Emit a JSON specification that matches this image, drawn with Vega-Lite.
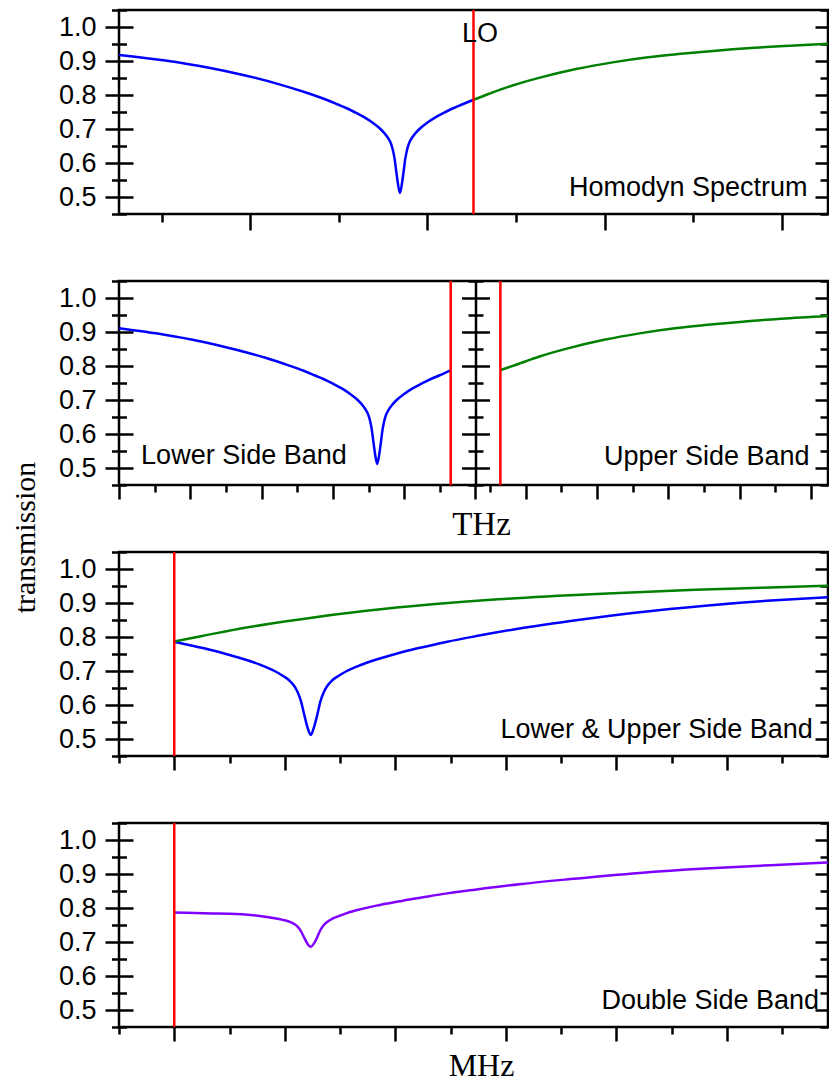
{
  "$schema": "https://vega.github.io/schema/vega-lite/v6.json",
  "autosize": {"type": "none"},
  "padding": {"left": 119, "top": 10, "right": 710, "bottom": 1073},
  "bounds": "flush",
  "spacing": 67,
  "config": {
    "view": {"stroke": "#000000", "strokeWidth": 2.5},
    "axis": {"grid": false, "domain": false, "tickColor": "#000000", "tickWidth": 2.5, "domainColor": "#000000", "domainWidth": 2.5, "labelFont": "Liberation Sans", "labelFontSize": 27, "labelColor": "#000000", "titleFont": "Liberation Serif", "titleFontWeight": "normal", "titleColor": "#000000"},
    "text": {"font": "Liberation Sans", "fontSize": 27, "color": "#000000"}
  },
  "datasets": {
    "p1": [
      {"x": 0, "t": 0.918, "band": "LSB"}, {"x": 0.5, "t": 0.902, "band": "LSB"}, {"x": 1.0, "t": 0.881, "band": "LSB"}, {"x": 1.4, "t": 0.859, "band": "LSB"}, {"x": 1.8, "t": 0.832, "band": "LSB"}, {"x": 2.1, "t": 0.808, "band": "LSB"}, {"x": 2.34, "t": 0.786, "band": "LSB"}, {"x": 2.47, "t": 0.772, "band": "LSB"}, {"x": 2.57, "t": 0.761, "band": "LSB"}, {"x": 2.67, "t": 0.748, "band": "LSB"}, {"x": 2.77, "t": 0.734, "band": "LSB"}, {"x": 2.87, "t": 0.717, "band": "LSB"}, {"x": 2.95, "t": 0.700, "band": "LSB"}, {"x": 3.0, "t": 0.686, "band": "LSB"}, {"x": 3.04, "t": 0.672, "band": "LSB"}, {"x": 3.07, "t": 0.656, "band": "LSB"}, {"x": 3.09, "t": 0.638, "band": "LSB"}, {"x": 3.11, "t": 0.612, "band": "LSB"}, {"x": 3.13, "t": 0.572, "band": "LSB"}, {"x": 3.15, "t": 0.535, "band": "LSB"}, {"x": 3.17, "t": 0.512, "band": "LSB"}, {"x": 3.19, "t": 0.535, "band": "LSB"}, {"x": 3.21, "t": 0.572, "band": "LSB"}, {"x": 3.23, "t": 0.612, "band": "LSB"}, {"x": 3.25, "t": 0.638, "band": "LSB"}, {"x": 3.27, "t": 0.656, "band": "LSB"}, {"x": 3.30, "t": 0.672, "band": "LSB"}, {"x": 3.34, "t": 0.686, "band": "LSB"}, {"x": 3.39, "t": 0.700, "band": "LSB"}, {"x": 3.47, "t": 0.717, "band": "LSB"}, {"x": 3.57, "t": 0.734, "band": "LSB"}, {"x": 3.67, "t": 0.748, "band": "LSB"}, {"x": 3.77, "t": 0.761, "band": "LSB"}, {"x": 3.87, "t": 0.772, "band": "LSB"}, {"x": 4.0, "t": 0.786, "band": "LSB"},
      {"x": 4.0, "t": 0.786, "band": "USB"}, {"x": 4.17, "t": 0.803, "band": "USB"}, {"x": 4.44, "t": 0.828, "band": "USB"}, {"x": 4.75, "t": 0.851, "band": "USB"}, {"x": 5.17, "t": 0.877, "band": "USB"}, {"x": 5.57, "t": 0.896, "band": "USB"}, {"x": 5.97, "t": 0.911, "band": "USB"}, {"x": 6.34, "t": 0.921, "band": "USB"}, {"x": 6.67, "t": 0.929, "band": "USB"}, {"x": 7.17, "t": 0.939, "band": "USB"}, {"x": 7.57, "t": 0.945, "band": "USB"}, {"x": 8.0, "t": 0.951, "band": "USB"}
    ],
    "p2": [
      {"x": 0, "t": 0.911, "band": "LSB"}, {"x": 0.639, "t": 0.892, "band": "LSB"}, {"x": 1.136, "t": 0.873, "band": "LSB"}, {"x": 1.658, "t": 0.847, "band": "LSB"}, {"x": 2.043, "t": 0.825, "band": "LSB"}, {"x": 2.378, "t": 0.802, "band": "LSB"}, {"x": 2.59, "t": 0.786, "band": "LSB"}, {"x": 2.751, "t": 0.772, "band": "LSB"}, {"x": 2.875, "t": 0.761, "band": "LSB"}, {"x": 3.0, "t": 0.748, "band": "LSB"}, {"x": 3.124, "t": 0.734, "band": "LSB"}, {"x": 3.248, "t": 0.717, "band": "LSB"}, {"x": 3.348, "t": 0.700, "band": "LSB"}, {"x": 3.41, "t": 0.686, "band": "LSB"}, {"x": 3.459, "t": 0.672, "band": "LSB"}, {"x": 3.497, "t": 0.656, "band": "LSB"}, {"x": 3.522, "t": 0.638, "band": "LSB"}, {"x": 3.546, "t": 0.612, "band": "LSB"}, {"x": 3.571, "t": 0.572, "band": "LSB"}, {"x": 3.596, "t": 0.535, "band": "LSB"}, {"x": 3.621, "t": 0.512, "band": "LSB"}, {"x": 3.646, "t": 0.535, "band": "LSB"}, {"x": 3.671, "t": 0.572, "band": "LSB"}, {"x": 3.696, "t": 0.612, "band": "LSB"}, {"x": 3.72, "t": 0.638, "band": "LSB"}, {"x": 3.745, "t": 0.656, "band": "LSB"}, {"x": 3.783, "t": 0.672, "band": "LSB"}, {"x": 3.832, "t": 0.686, "band": "LSB"}, {"x": 3.894, "t": 0.700, "band": "LSB"}, {"x": 3.994, "t": 0.717, "band": "LSB"}, {"x": 4.118, "t": 0.734, "band": "LSB"}, {"x": 4.242, "t": 0.748, "band": "LSB"}, {"x": 4.367, "t": 0.761, "band": "LSB"}, {"x": 4.491, "t": 0.772, "band": "LSB"}, {"x": 4.652, "t": 0.787, "band": "LSB"},
      {"x": 5.349, "t": 0.788, "band": "USB"}, {"x": 5.56, "t": 0.803, "band": "USB"}, {"x": 5.896, "t": 0.828, "band": "USB"}, {"x": 6.281, "t": 0.851, "band": "USB"}, {"x": 6.803, "t": 0.877, "band": "USB"}, {"x": 7.3, "t": 0.896, "band": "USB"}, {"x": 7.797, "t": 0.911, "band": "USB"}, {"x": 8.257, "t": 0.921, "band": "USB"}, {"x": 8.667, "t": 0.929, "band": "USB"}, {"x": 9.288, "t": 0.939, "band": "USB"}, {"x": 9.944, "t": 0.947, "band": "USB"}
    ],
    "p3": [
      {"x": 0, "t": 0.786, "band": "LSB"}, {"x": 0.194, "t": 0.772, "band": "LSB"}, {"x": 0.342, "t": 0.761, "band": "LSB"}, {"x": 0.491, "t": 0.748, "band": "LSB"}, {"x": 0.64, "t": 0.734, "band": "LSB"}, {"x": 0.789, "t": 0.717, "band": "LSB"}, {"x": 0.908, "t": 0.700, "band": "LSB"}, {"x": 0.982, "t": 0.686, "band": "LSB"}, {"x": 1.042, "t": 0.672, "band": "LSB"}, {"x": 1.086, "t": 0.656, "band": "LSB"}, {"x": 1.116, "t": 0.638, "band": "LSB"}, {"x": 1.146, "t": 0.612, "band": "LSB"}, {"x": 1.176, "t": 0.572, "band": "LSB"}, {"x": 1.205, "t": 0.535, "band": "LSB"}, {"x": 1.235, "t": 0.512, "band": "LSB"}, {"x": 1.265, "t": 0.535, "band": "LSB"}, {"x": 1.295, "t": 0.572, "band": "LSB"}, {"x": 1.324, "t": 0.612, "band": "LSB"}, {"x": 1.354, "t": 0.638, "band": "LSB"}, {"x": 1.384, "t": 0.656, "band": "LSB"}, {"x": 1.428, "t": 0.672, "band": "LSB"}, {"x": 1.488, "t": 0.686, "band": "LSB"}, {"x": 1.562, "t": 0.700, "band": "LSB"}, {"x": 1.681, "t": 0.717, "band": "LSB"}, {"x": 1.83, "t": 0.734, "band": "LSB"}, {"x": 1.979, "t": 0.748, "band": "LSB"}, {"x": 2.128, "t": 0.761, "band": "LSB"}, {"x": 2.276, "t": 0.772, "band": "LSB"}, {"x": 2.47, "t": 0.786, "band": "LSB"}, {"x": 2.723, "t": 0.802, "band": "LSB"}, {"x": 3.124, "t": 0.825, "band": "LSB"}, {"x": 3.585, "t": 0.847, "band": "LSB"}, {"x": 4.21, "t": 0.873, "band": "LSB"}, {"x": 4.805, "t": 0.892, "band": "LSB"}, {"x": 5.4, "t": 0.907, "band": "LSB"}, {"x": 5.916, "t": 0.917, "band": "LSB"},
      {"x": 0, "t": 0.787, "band": "USB"}, {"x": 0.253, "t": 0.803, "band": "USB"}, {"x": 0.654, "t": 0.828, "band": "USB"}, {"x": 1.116, "t": 0.851, "band": "USB"}, {"x": 1.74, "t": 0.877, "band": "USB"}, {"x": 2.335, "t": 0.896, "band": "USB"}, {"x": 2.93, "t": 0.911, "band": "USB"}, {"x": 3.481, "t": 0.921, "band": "USB"}, {"x": 3.972, "t": 0.929, "band": "USB"}, {"x": 4.715, "t": 0.939, "band": "USB"}, {"x": 5.31, "t": 0.945, "band": "USB"}, {"x": 5.916, "t": 0.951, "band": "USB"}
    ],
    "p4": [
      {"x": 0, "t": 0.787, "band": "DSB"}, {"x": 0.194, "t": 0.785, "band": "DSB"}, {"x": 0.342, "t": 0.784, "band": "DSB"}, {"x": 0.491, "t": 0.783, "band": "DSB"}, {"x": 0.64, "t": 0.781, "band": "DSB"}, {"x": 0.789, "t": 0.776, "band": "DSB"}, {"x": 0.908, "t": 0.770, "band": "DSB"}, {"x": 0.982, "t": 0.765, "band": "DSB"}, {"x": 1.042, "t": 0.760, "band": "DSB"}, {"x": 1.086, "t": 0.753, "band": "DSB"}, {"x": 1.116, "t": 0.745, "band": "DSB"}, {"x": 1.146, "t": 0.732, "band": "DSB"}, {"x": 1.176, "t": 0.713, "band": "DSB"}, {"x": 1.205, "t": 0.695, "band": "DSB"}, {"x": 1.235, "t": 0.686, "band": "DSB"}, {"x": 1.265, "t": 0.696, "band": "DSB"}, {"x": 1.295, "t": 0.715, "band": "DSB"}, {"x": 1.324, "t": 0.736, "band": "DSB"}, {"x": 1.354, "t": 0.750, "band": "DSB"}, {"x": 1.384, "t": 0.759, "band": "DSB"}, {"x": 1.428, "t": 0.768, "band": "DSB"}, {"x": 1.488, "t": 0.776, "band": "DSB"}, {"x": 1.562, "t": 0.785, "band": "DSB"}, {"x": 1.681, "t": 0.796, "band": "DSB"}, {"x": 1.83, "t": 0.807, "band": "DSB"}, {"x": 1.979, "t": 0.816, "band": "DSB"}, {"x": 2.128, "t": 0.825, "band": "DSB"}, {"x": 2.276, "t": 0.833, "band": "DSB"}, {"x": 2.47, "t": 0.843, "band": "DSB"}, {"x": 2.723, "t": 0.854, "band": "DSB"}, {"x": 3.124, "t": 0.870, "band": "DSB"}, {"x": 3.585, "t": 0.885, "band": "DSB"}, {"x": 4.21, "t": 0.903, "band": "DSB"}, {"x": 4.805, "t": 0.916, "band": "DSB"}, {"x": 5.4, "t": 0.926, "band": "DSB"}, {"x": 5.916, "t": 0.934, "band": "DSB"}
    ]
  },
  "vconcat": [
    {
      "width": 709, "height": 204,
      "data": {"name": "p1"},
      "resolve": {"axis": {"x": "independent", "y": "independent"}},
      "layer": [
        {"mark": {"type": "line", "strokeWidth": 2.5, "interpolate": "monotone"},
         "encoding": {
           "x": {"field": "x", "type": "quantitative", "scale": {"domain": [0, 8], "nice": false, "zero": false}, "axis": {"orient": "bottom", "values": [1.48, 3.48, 5.48, 7.48], "tickSize": 16, "labels": false, "title": null}},
           "y": {"field": "t", "type": "quantitative", "scale": {"domain": [0.45, 1.05], "nice": false, "zero": false}, "axis": {"orient": "left", "values": [0.5, 0.6, 0.7, 0.8, 0.9, 1.0], "tickSize": 28, "offset": -14, "labelPadding": 9, "format": ".1f", "title": null}},
           "color": {"field": "band", "type": "nominal", "scale": {"domain": ["LSB", "USB", "DSB"], "range": ["#0000ff", "#008000", "#8000ff"]}, "legend": null}}},
        {"mark": {"type": "point", "opacity": 0},
         "encoding": {
           "x": {"field": "x", "type": "quantitative", "scale": {"domain": [0, 8], "nice": false, "zero": false}, "axis": {"orient": "bottom", "values": [0.48, 2.48, 4.48, 6.48], "tickSize": 8, "labels": false, "title": null}},
           "y": {"field": "t", "type": "quantitative", "scale": {"domain": [0.45, 1.05], "nice": false, "zero": false}, "axis": {"orient": "left", "values": [0.45, 0.55, 0.65, 0.75, 0.85, 0.95, 1.05], "tickSize": 15, "offset": -7.5, "labels": false, "title": null}}}},
        {"mark": {"type": "point", "opacity": 0},
         "encoding": {
           "x": {"field": "x", "type": "quantitative", "scale": {"domain": [0, 8], "nice": false, "zero": false}, "axis": null},
           "y": {"field": "t", "type": "quantitative", "scale": {"domain": [0.45, 1.05], "nice": false, "zero": false}, "axis": {"orient": "right", "values": [0.5, 0.6, 0.7, 0.8, 0.9, 1.0], "tickSize": 13, "offset": -13, "labels": false, "title": null}}}},
        {"mark": {"type": "point", "opacity": 0},
         "encoding": {
           "x": {"field": "x", "type": "quantitative", "scale": {"domain": [0, 8], "nice": false, "zero": false}, "axis": null},
           "y": {"field": "t", "type": "quantitative", "scale": {"domain": [0.45, 1.05], "nice": false, "zero": false}, "axis": {"orient": "right", "values": [0.45, 0.55, 0.65, 0.75, 0.85, 0.95, 1.05], "tickSize": 8, "offset": -8, "labels": false, "title": null}}}},
        {"data": {"values": [{"lo": 4.0}]},
         "mark": {"type": "rule", "color": "#ff0000", "strokeWidth": 2.5},
         "encoding": {"x": {"field": "lo", "type": "quantitative", "scale": {"domain": [0, 8], "nice": false, "zero": false}, "axis": null}}},
        {"data": {"values": [{"label": "LO", "lx": 3.87, "ly": 0.955}]},
         "mark": {"type": "text", "align": "left", "baseline": "alphabetic"},
         "encoding": {
           "x": {"field": "lx", "type": "quantitative", "scale": {"domain": [0, 8], "nice": false, "zero": false}, "axis": null},
           "y": {"field": "ly", "type": "quantitative", "scale": {"domain": [0.45, 1.05], "nice": false, "zero": false}, "axis": null},
           "text": {"field": "label"}}},
        {"data": {"values": [{"label": "Homodyn Spectrum", "lx": 7.77, "ly": 0.502}]},
         "mark": {"type": "text", "align": "right", "baseline": "alphabetic"},
         "encoding": {
           "x": {"field": "lx", "type": "quantitative", "scale": {"domain": [0, 8], "nice": false, "zero": false}, "axis": null},
           "y": {"field": "ly", "type": "quantitative", "scale": {"domain": [0.45, 1.05], "nice": false, "zero": false}, "axis": null},
           "text": {"field": "label"}}}
      ]
    },
    {
      "width": 709, "height": 204,
      "data": {"name": "p2"},
      "resolve": {"axis": {"x": "independent", "y": "independent"}},
      "layer": [
        {"mark": {"type": "line", "strokeWidth": 2.5, "interpolate": "monotone"},
         "encoding": {
           "x": {"field": "x", "type": "quantitative", "scale": {"domain": [0, 9.944], "nice": false, "zero": false}, "axis": {"orient": "bottom", "values": [0, 1, 2, 3, 4, 5, 5.704, 6.704, 7.704, 8.704, 9.704], "tickSize": 14, "labels": false, "title": "THz", "titleFontSize": 33, "titleX": 362, "titleY": 49, "titleAlign": "center", "titleBaseline": "alphabetic", "titleAngle": 0}},
           "y": {"field": "t", "type": "quantitative", "scale": {"domain": [0.45, 1.05], "nice": false, "zero": false}, "axis": {"orient": "left", "values": [0.5, 0.6, 0.7, 0.8, 0.9, 1.0], "tickSize": 28, "offset": -14, "labelPadding": 9, "format": ".1f", "title": "transmission", "titleFontSize": 30, "titleAngle": -90, "titleX": -99, "titleY": 256, "titleAlign": "center", "titleBaseline": "alphabetic"}},
           "color": {"field": "band", "type": "nominal", "scale": {"domain": ["LSB", "USB", "DSB"], "range": ["#0000ff", "#008000", "#8000ff"]}, "legend": null}}},
        {"mark": {"type": "point", "opacity": 0},
         "encoding": {
           "x": {"field": "x", "type": "quantitative", "scale": {"domain": [0, 9.944], "nice": false, "zero": false}, "axis": {"orient": "bottom", "values": [0.5, 1.5, 2.5, 3.5, 4.5, 5.204, 6.204, 7.204, 8.204, 9.204], "tickSize": 7, "labels": false, "title": null}},
           "y": {"field": "t", "type": "quantitative", "scale": {"domain": [0.45, 1.05], "nice": false, "zero": false}, "axis": {"orient": "left", "values": [0.45, 0.55, 0.65, 0.75, 0.85, 0.95, 1.05], "tickSize": 15, "offset": -7.5, "labels": false, "title": null}}}},
        {"mark": {"type": "point", "opacity": 0},
         "encoding": {
           "x": {"field": "x", "type": "quantitative", "scale": {"domain": [0, 9.944], "nice": false, "zero": false}, "axis": null},
           "y": {"field": "t", "type": "quantitative", "scale": {"domain": [0.45, 1.05], "nice": false, "zero": false}, "axis": {"orient": "right", "values": [0.5, 0.6, 0.7, 0.8, 0.9, 1.0], "tickSize": 13, "offset": -13, "labels": false, "title": null}}}},
        {"mark": {"type": "point", "opacity": 0},
         "encoding": {
           "x": {"field": "x", "type": "quantitative", "scale": {"domain": [0, 9.944], "nice": false, "zero": false}, "axis": null},
           "y": {"field": "t", "type": "quantitative", "scale": {"domain": [0.45, 1.05], "nice": false, "zero": false}, "axis": {"orient": "right", "values": [0.45, 0.55, 0.65, 0.75, 0.85, 0.95, 1.05], "tickSize": 8, "offset": -8, "labels": false, "title": null}}}},
        {"mark": {"type": "point", "opacity": 0},
         "encoding": {
           "x": {"field": "x", "type": "quantitative", "scale": {"domain": [0, 9.944], "nice": false, "zero": false}, "axis": null},
           "y": {"field": "t", "type": "quantitative", "scale": {"domain": [0.45, 1.05], "nice": false, "zero": false}, "axis": {"orient": "left", "offset": -356.5, "domain": true, "ticks": false, "labels": false, "title": null}}}},
        {"mark": {"type": "point", "opacity": 0},
         "encoding": {
           "x": {"field": "x", "type": "quantitative", "scale": {"domain": [0, 9.944], "nice": false, "zero": false}, "axis": null},
           "y": {"field": "t", "type": "quantitative", "scale": {"domain": [0.45, 1.05], "nice": false, "zero": false}, "axis": {"orient": "left", "values": [0.5, 0.6, 0.7, 0.8, 0.9, 1.0], "tickSize": 28, "offset": -370.5, "labels": false, "title": null}}}},
        {"mark": {"type": "point", "opacity": 0},
         "encoding": {
           "x": {"field": "x", "type": "quantitative", "scale": {"domain": [0, 9.944], "nice": false, "zero": false}, "axis": null},
           "y": {"field": "t", "type": "quantitative", "scale": {"domain": [0.45, 1.05], "nice": false, "zero": false}, "axis": {"orient": "left", "values": [0.45, 0.55, 0.65, 0.75, 0.85, 0.95, 1.05], "tickSize": 15, "offset": -364, "labels": false, "title": null}}}},
        {"data": {"values": [{"lo": 4.652}, {"lo": 5.349}]},
         "mark": {"type": "rule", "color": "#ff0000", "strokeWidth": 2.5},
         "encoding": {"x": {"field": "lo", "type": "quantitative", "scale": {"domain": [0, 9.944], "nice": false, "zero": false}, "axis": null}}},
        {"data": {"values": [{"label": "Lower Side Band", "lx": 0.31, "ly": 0.513}]},
         "mark": {"type": "text", "align": "left", "baseline": "alphabetic"},
         "encoding": {
           "x": {"field": "lx", "type": "quantitative", "scale": {"domain": [0, 9.944], "nice": false, "zero": false}, "axis": null},
           "y": {"field": "ly", "type": "quantitative", "scale": {"domain": [0.45, 1.05], "nice": false, "zero": false}, "axis": null},
           "text": {"field": "label"}}},
        {"data": {"values": [{"label": "Upper Side Band", "lx": 9.685, "ly": 0.51}]},
         "mark": {"type": "text", "align": "right", "baseline": "alphabetic"},
         "encoding": {
           "x": {"field": "lx", "type": "quantitative", "scale": {"domain": [0, 9.944], "nice": false, "zero": false}, "axis": null},
           "y": {"field": "ly", "type": "quantitative", "scale": {"domain": [0.45, 1.05], "nice": false, "zero": false}, "axis": null},
           "text": {"field": "label"}}}
      ]
    },
    {
      "width": 709, "height": 204,
      "data": {"name": "p3"},
      "resolve": {"axis": {"x": "independent", "y": "independent"}},
      "layer": [
        {"mark": {"type": "line", "strokeWidth": 2.5, "interpolate": "monotone"},
         "encoding": {
           "x": {"field": "x", "type": "quantitative", "scale": {"domain": [-0.5, 5.916], "nice": false, "zero": false}, "axis": {"orient": "bottom", "values": [0, 1, 2, 3, 4, 5], "tickSize": 14, "labels": false, "title": null}},
           "y": {"field": "t", "type": "quantitative", "scale": {"domain": [0.45, 1.05], "nice": false, "zero": false}, "axis": {"orient": "left", "values": [0.5, 0.6, 0.7, 0.8, 0.9, 1.0], "tickSize": 28, "offset": -14, "labelPadding": 9, "format": ".1f", "title": null}},
           "color": {"field": "band", "type": "nominal", "scale": {"domain": ["LSB", "USB", "DSB"], "range": ["#0000ff", "#008000", "#8000ff"]}, "legend": null}}},
        {"mark": {"type": "point", "opacity": 0},
         "encoding": {
           "x": {"field": "x", "type": "quantitative", "scale": {"domain": [-0.5, 5.916], "nice": false, "zero": false}, "axis": {"orient": "bottom", "values": [-0.5, 0.5, 1.5, 2.5, 3.5, 4.5, 5.5], "tickSize": 7, "labels": false, "title": null}},
           "y": {"field": "t", "type": "quantitative", "scale": {"domain": [0.45, 1.05], "nice": false, "zero": false}, "axis": {"orient": "left", "values": [0.45, 0.55, 0.65, 0.75, 0.85, 0.95, 1.05], "tickSize": 15, "offset": -7.5, "labels": false, "title": null}}}},
        {"mark": {"type": "point", "opacity": 0},
         "encoding": {
           "x": {"field": "x", "type": "quantitative", "scale": {"domain": [-0.5, 5.916], "nice": false, "zero": false}, "axis": null},
           "y": {"field": "t", "type": "quantitative", "scale": {"domain": [0.45, 1.05], "nice": false, "zero": false}, "axis": {"orient": "right", "values": [0.5, 0.6, 0.7, 0.8, 0.9, 1.0], "tickSize": 13, "offset": -13, "labels": false, "title": null}}}},
        {"mark": {"type": "point", "opacity": 0},
         "encoding": {
           "x": {"field": "x", "type": "quantitative", "scale": {"domain": [-0.5, 5.916], "nice": false, "zero": false}, "axis": null},
           "y": {"field": "t", "type": "quantitative", "scale": {"domain": [0.45, 1.05], "nice": false, "zero": false}, "axis": {"orient": "right", "values": [0.45, 0.55, 0.65, 0.75, 0.85, 0.95, 1.05], "tickSize": 8, "offset": -8, "labels": false, "title": null}}}},
        {"data": {"values": [{"lo": 0}]},
         "mark": {"type": "rule", "color": "#ff0000", "strokeWidth": 2.5},
         "encoding": {"x": {"field": "lo", "type": "quantitative", "scale": {"domain": [-0.5, 5.916], "nice": false, "zero": false}, "axis": null}}},
        {"data": {"values": [{"label": "Lower & Upper Side Band", "lx": 5.778, "ly": 0.503}]},
         "mark": {"type": "text", "align": "right", "baseline": "alphabetic"},
         "encoding": {
           "x": {"field": "lx", "type": "quantitative", "scale": {"domain": [-0.5, 5.916], "nice": false, "zero": false}, "axis": null},
           "y": {"field": "ly", "type": "quantitative", "scale": {"domain": [0.45, 1.05], "nice": false, "zero": false}, "axis": null},
           "text": {"field": "label"}}}
      ]
    },
    {
      "width": 709, "height": 204,
      "data": {"name": "p4"},
      "resolve": {"axis": {"x": "independent", "y": "independent"}},
      "layer": [
        {"mark": {"type": "line", "strokeWidth": 2.5, "interpolate": "monotone"},
         "encoding": {
           "x": {"field": "x", "type": "quantitative", "scale": {"domain": [-0.5, 5.916], "nice": false, "zero": false}, "axis": {"orient": "bottom", "values": [0, 1, 2, 3, 4, 5], "tickSize": 14, "labels": false, "title": "MHz", "titleFontSize": 32, "titleX": 362, "titleY": 48, "titleAlign": "center", "titleBaseline": "alphabetic", "titleAngle": 0}},
           "y": {"field": "t", "type": "quantitative", "scale": {"domain": [0.45, 1.05], "nice": false, "zero": false}, "axis": {"orient": "left", "values": [0.5, 0.6, 0.7, 0.8, 0.9, 1.0], "tickSize": 28, "offset": -14, "labelPadding": 9, "format": ".1f", "title": null}},
           "color": {"field": "band", "type": "nominal", "scale": {"domain": ["LSB", "USB", "DSB"], "range": ["#0000ff", "#008000", "#8000ff"]}, "legend": null}}},
        {"mark": {"type": "point", "opacity": 0},
         "encoding": {
           "x": {"field": "x", "type": "quantitative", "scale": {"domain": [-0.5, 5.916], "nice": false, "zero": false}, "axis": {"orient": "bottom", "values": [-0.5, 0.5, 1.5, 2.5, 3.5, 4.5, 5.5], "tickSize": 7, "labels": false, "title": null}},
           "y": {"field": "t", "type": "quantitative", "scale": {"domain": [0.45, 1.05], "nice": false, "zero": false}, "axis": {"orient": "left", "values": [0.45, 0.55, 0.65, 0.75, 0.85, 0.95, 1.05], "tickSize": 15, "offset": -7.5, "labels": false, "title": null}}}},
        {"mark": {"type": "point", "opacity": 0},
         "encoding": {
           "x": {"field": "x", "type": "quantitative", "scale": {"domain": [-0.5, 5.916], "nice": false, "zero": false}, "axis": null},
           "y": {"field": "t", "type": "quantitative", "scale": {"domain": [0.45, 1.05], "nice": false, "zero": false}, "axis": {"orient": "right", "values": [0.5, 0.6, 0.7, 0.8, 0.9, 1.0], "tickSize": 13, "offset": -13, "labels": false, "title": null}}}},
        {"mark": {"type": "point", "opacity": 0},
         "encoding": {
           "x": {"field": "x", "type": "quantitative", "scale": {"domain": [-0.5, 5.916], "nice": false, "zero": false}, "axis": null},
           "y": {"field": "t", "type": "quantitative", "scale": {"domain": [0.45, 1.05], "nice": false, "zero": false}, "axis": {"orient": "right", "values": [0.45, 0.55, 0.65, 0.75, 0.85, 0.95, 1.05], "tickSize": 8, "offset": -8, "labels": false, "title": null}}}},
        {"data": {"values": [{"lo": 0}]},
         "mark": {"type": "rule", "color": "#ff0000", "strokeWidth": 2.5},
         "encoding": {"x": {"field": "lo", "type": "quantitative", "scale": {"domain": [-0.5, 5.916], "nice": false, "zero": false}, "axis": null}}},
        {"data": {"values": [{"label": "Double Side Band", "lx": 5.835, "ly": 0.504}]},
         "mark": {"type": "text", "align": "right", "baseline": "alphabetic"},
         "encoding": {
           "x": {"field": "lx", "type": "quantitative", "scale": {"domain": [-0.5, 5.916], "nice": false, "zero": false}, "axis": null},
           "y": {"field": "ly", "type": "quantitative", "scale": {"domain": [0.45, 1.05], "nice": false, "zero": false}, "axis": null},
           "text": {"field": "label"}}}
      ]
    }
  ]
}
